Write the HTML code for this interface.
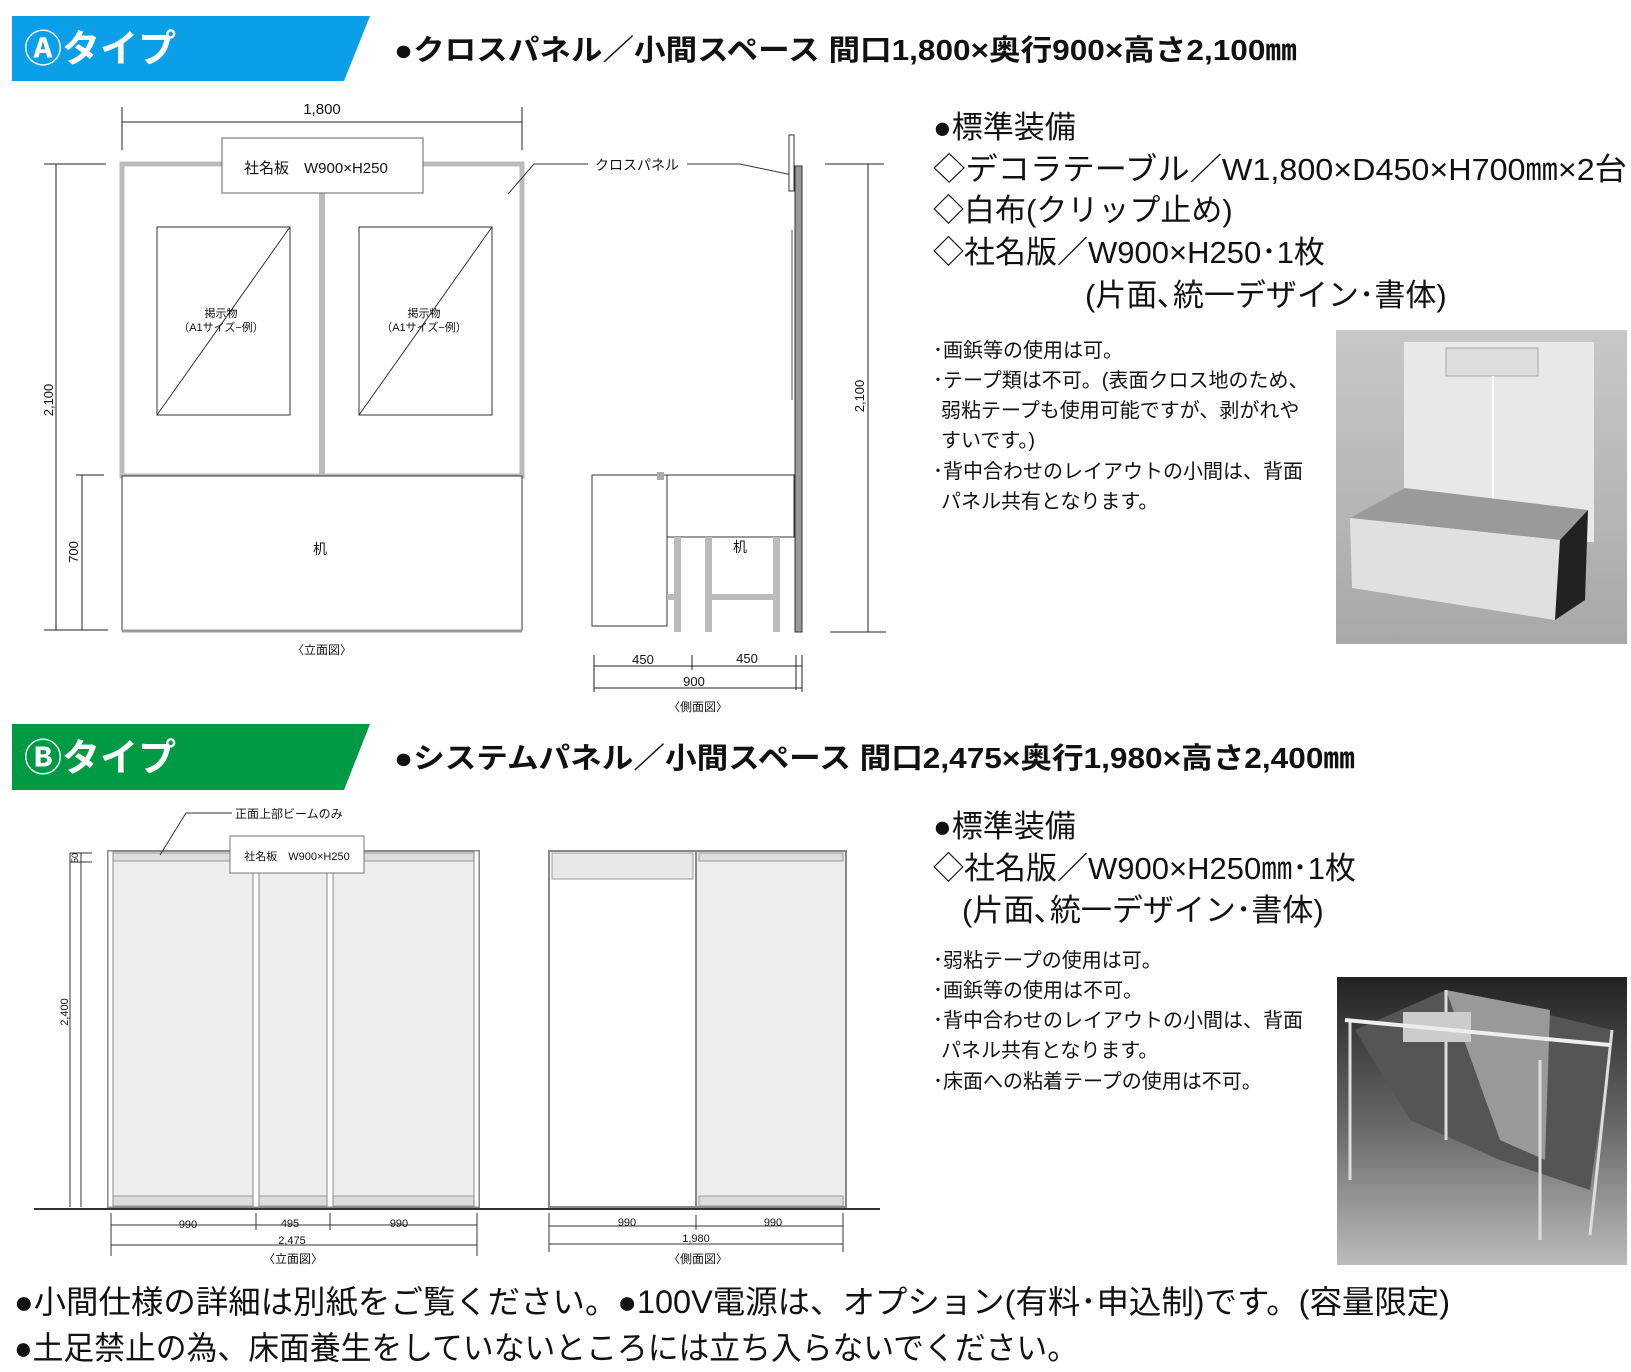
<!DOCTYPE html>
<html><head><meta charset="utf-8"><style>
html,body{margin:0;padding:0;background:#fff;}
svg{display:block;}
text{font-family:"Liberation Sans","Noto Sans CJK JP",sans-serif;fill:#111;}
</style></head><body>
<svg width="1631" height="1372" viewBox="0 0 1631 1372" xmlns="http://www.w3.org/2000/svg">
<defs>
<linearGradient id="gA" x1="0" y1="0" x2="0" y2="1"><stop offset="0" stop-color="#c8c8c8"/><stop offset="1" stop-color="#a8a8a8"/></linearGradient>
<linearGradient id="gB" x1="0" y1="0" x2="0" y2="1"><stop offset="0" stop-color="#222"/><stop offset="0.5" stop-color="#666"/><stop offset="1" stop-color="#bbb"/></linearGradient>
</defs>
<!-- A header -->
<polygon points="12,16 370,16 344,81 12,81" fill="#0a9fe6"/>
<text x="24" y="62" font-size="38" font-weight="bold" style="fill:#fff">Ⓐタイプ</text>
<text x="394" y="60" font-size="29" font-weight="bold" textLength="903" lengthAdjust="spacingAndGlyphs">●クロスパネル／小間スペース 間口1,800×奥行900×高さ2,100㎜</text>

<!-- A elevation -->
<g stroke="#222" fill="none" stroke-width="1">
<line x1="122" y1="122" x2="522" y2="122"/><line x1="122" y1="107" x2="122" y2="150"/><line x1="522" y1="107" x2="522" y2="150"/>
<line x1="44" y1="164" x2="106" y2="164"/><line x1="56" y1="164" x2="56" y2="630"/>
<line x1="44" y1="630" x2="108" y2="630"/>
<line x1="76" y1="475" x2="104" y2="475"/><line x1="82" y1="475" x2="82" y2="630"/>
</g>
<rect x="122" y="164" width="400" height="312" fill="#fff" stroke="#bbb" stroke-width="5"/>
<line x1="322" y1="164" x2="322" y2="476" stroke="#bbb" stroke-width="6"/>
<rect x="222" y="138" width="201" height="55" fill="#fff" stroke="#666"/>
<text x="244" y="173" font-size="15">社名板　W900×H250</text>
<rect x="157" y="227" width="133" height="188" fill="#fff" stroke="#333"/>
<line x1="157" y1="415" x2="290" y2="227" stroke="#333"/>
<rect x="359" y="227" width="133" height="188" fill="#fff" stroke="#333"/>
<line x1="359" y1="415" x2="492" y2="227" stroke="#333"/>
<text x="221" y="317" font-size="11" text-anchor="middle">掲示物</text><text x="221" y="331" font-size="11" text-anchor="middle">（A1サイズ−例）</text>
<text x="424" y="317" font-size="11" text-anchor="middle">掲示物</text><text x="424" y="331" font-size="11" text-anchor="middle">（A1サイズ−例）</text>
<rect x="122" y="476" width="400" height="154" fill="#fff" stroke="#333"/>
<line x1="122" y1="631" x2="522" y2="631" stroke="#999" stroke-width="3"/>
<text x="320" y="554" font-size="14" text-anchor="middle">机</text>
<text x="322" y="114" font-size="15" text-anchor="middle">1,800</text>
<text x="322" y="654" font-size="12" text-anchor="middle">〈立面図〉</text>
<text transform="translate(53,400) rotate(-90)" font-size="13" text-anchor="middle">2,100</text>
<text transform="translate(78,552) rotate(-90)" font-size="13" text-anchor="middle">700</text>
<polyline points="508,194 534,164 588,164" fill="none" stroke="#333"/>
<text x="595" y="170" font-size="14">クロスパネル</text>
<polyline points="687,164 740,164 792,175" fill="none" stroke="#333"/>

<!-- A side -->
<rect x="789" y="135" width="5" height="56" fill="#fff" stroke="#333"/>
<rect x="795" y="166" width="7" height="466" fill="#999" stroke="#333"/>
<line x1="792" y1="230" x2="792" y2="400" stroke="#555"/>
<rect x="592" y="475" width="75" height="151" fill="#fff" stroke="#333"/>
<rect x="657" y="472" width="7" height="8" fill="#aaa"/>
<rect x="667" y="475" width="127" height="62" fill="#fff" stroke="#333"/>
<g fill="#bbb"><rect x="674" y="537" width="7" height="95"/><rect x="705" y="537" width="7" height="95"/><rect x="773" y="537" width="7" height="95"/><rect x="705" y="594" width="75" height="6"/><rect x="667" y="594" width="14" height="6"/></g>
<text x="740" y="552" font-size="14" text-anchor="middle">机</text>
<g stroke="#222" fill="none">
<line x1="825" y1="164" x2="884" y2="164"/><line x1="868" y1="164" x2="868" y2="632"/><line x1="830" y1="632" x2="886" y2="632"/>
<line x1="594" y1="666" x2="802" y2="666"/><line x1="594" y1="688" x2="802" y2="688"/>
<line x1="594" y1="655" x2="594" y2="692"/><line x1="692" y1="655" x2="692" y2="670"/><line x1="796" y1="655" x2="796" y2="690"/><line x1="802" y1="655" x2="802" y2="692"/>
</g>
<text x="643" y="664" font-size="13" text-anchor="middle">450</text>
<text x="747" y="663" font-size="13" text-anchor="middle">450</text>
<text x="694" y="686" font-size="13" text-anchor="middle">900</text>
<text x="698" y="711" font-size="12" text-anchor="middle">〈側面図〉</text>
<text transform="translate(864,396) rotate(-90)" font-size="13" text-anchor="middle">2,100</text>

<!-- A text -->
<g font-size="31">
<text x="933" y="138">●標準装備</text>
<text x="933" y="180" textLength="694" lengthAdjust="spacingAndGlyphs">◇デコラテーブル／W1,800×D450×H700㎜×2台</text>
<text x="933" y="221">◇白布(クリップ止め)</text>
<text x="933" y="263">◇社名版／W900×H250･1枚</text>
<text x="1085" y="306">(片面､統一デザイン･書体)</text>
</g>
<g font-size="20">
<text x="933" y="357">･画鋲等の使用は可。</text>
<text x="933" y="387">･テープ類は不可。(表面クロス地のため、</text>
<text x="941" y="417">弱粘テープも使用可能ですが、剥がれや</text>
<text x="941" y="447">すいです。)</text>
<text x="933" y="478">･背中合わせのレイアウトの小間は、背面</text>
<text x="941" y="508">パネル共有となります。</text>
</g>
<!-- photo A -->
<rect x="1336" y="330" width="291" height="314" fill="url(#gA)"/>
<rect x="1404" y="342" width="190" height="200" fill="#e8e8e8"/>
<rect x="1446" y="348" width="92" height="28" fill="#ddd" stroke="#aaa"/>
<line x1="1493" y1="376" x2="1493" y2="500" stroke="#fff" stroke-width="2"/>
<polygon points="1350,518 1405,488 1588,510 1560,540" fill="#9a9a9a"/>
<polygon points="1350,518 1560,540 1555,620 1352,588" fill="#e0e0e0"/>
<polygon points="1560,540 1588,510 1585,600 1555,620" fill="#222"/>

<!-- B header -->
<polygon points="12,724 370,724 344,790 12,790" fill="#009944"/>
<text x="24" y="771" font-size="38" font-weight="bold" style="fill:#fff">Ⓑタイプ</text>
<text x="394" y="768" font-size="29" font-weight="bold" textLength="961" lengthAdjust="spacingAndGlyphs">●システムパネル／小間スペース 間口2,475×奥行1,980×高さ2,400㎜</text>

<!-- B elevation -->
<rect x="108" y="851" width="371" height="356" fill="#eceeed" stroke="#888" stroke-width="2"/>
<rect x="111" y="853" width="365" height="8" fill="#ddd" stroke="#999"/>
<rect x="111" y="1196" width="365" height="10" fill="#ddd" stroke="#999"/>
<g fill="#fff" stroke="#888"><rect x="253" y="851" width="6" height="356"/><rect x="327" y="851" width="6" height="356"/><rect x="108" y="851" width="5" height="356"/><rect x="474" y="851" width="5" height="356"/></g>
<rect x="230" y="836" width="134" height="37" fill="#fff" stroke="#777"/>
<text x="297" y="860" font-size="11" text-anchor="middle">社名板　W900×H250</text>
<polyline points="160,855 186,813 232,813" fill="none" stroke="#333"/>
<text x="235" y="818" font-size="12">正面上部ビームのみ</text>
<g stroke="#333" fill="none">
<line x1="70" y1="853" x2="70" y2="1207"/><line x1="81" y1="853" x2="81" y2="1207"/><line x1="70" y1="853" x2="92" y2="853"/><line x1="70" y1="862" x2="92" y2="862"/>
<line x1="34" y1="1209" x2="880" y2="1209" stroke-width="2"/>
<line x1="111" y1="1225" x2="477" y2="1225"/><line x1="111" y1="1245" x2="477" y2="1245"/>
<line x1="111" y1="1213" x2="111" y2="1256"/><line x1="256" y1="1213" x2="256" y2="1230"/><line x1="330" y1="1213" x2="330" y2="1230"/><line x1="477" y1="1213" x2="477" y2="1256"/>
<line x1="549" y1="1226" x2="843" y2="1226"/><line x1="549" y1="1244" x2="843" y2="1244"/>
<line x1="549" y1="1213" x2="549" y2="1252"/><line x1="696" y1="1215" x2="696" y2="1230"/><line x1="843" y1="1213" x2="843" y2="1252"/>
</g>
<text transform="translate(68,1012) rotate(-90)" font-size="11" text-anchor="middle">2,400</text>
<text transform="translate(78,858) rotate(-90)" font-size="9" text-anchor="middle">50</text>
<text x="188" y="1228" font-size="11" text-anchor="middle">990</text>
<text x="290" y="1227" font-size="11" text-anchor="middle">495</text>
<text x="399" y="1227" font-size="11" text-anchor="middle">990</text>
<text x="292" y="1244" font-size="11" text-anchor="middle">2,475</text>
<text x="293" y="1263" font-size="12" text-anchor="middle">〈立面図〉</text>
<!-- B side -->
<rect x="549" y="851" width="147" height="356" fill="#fff" stroke="#888" stroke-width="2"/>
<rect x="552" y="853" width="141" height="26" fill="#e8e8e8" stroke="#999"/>
<rect x="696" y="851" width="150" height="356" fill="#eceeed" stroke="#888" stroke-width="2"/>
<rect x="699" y="853" width="144" height="8" fill="#ddd" stroke="#999"/>
<rect x="699" y="1196" width="144" height="10" fill="#ddd" stroke="#999"/>
<text x="627" y="1226" font-size="11" text-anchor="middle">990</text>
<text x="773" y="1226" font-size="11" text-anchor="middle">990</text>
<text x="696" y="1242" font-size="11" text-anchor="middle">1,980</text>
<text x="698" y="1263" font-size="12" text-anchor="middle">〈側面図〉</text>

<!-- B text -->
<g font-size="31">
<text x="933" y="837">●標準装備</text>
<text x="933" y="879">◇社名版／W900×H250㎜･1枚</text>
<text x="962" y="921">(片面､統一デザイン･書体)</text>
</g>
<g font-size="20">
<text x="933" y="967">･弱粘テープの使用は可。</text>
<text x="933" y="997">･画鋲等の使用は不可。</text>
<text x="933" y="1027">･背中合わせのレイアウトの小間は、背面</text>
<text x="941" y="1057">パネル共有となります。</text>
<text x="933" y="1088">･床面への粘着テープの使用は不可。</text>
</g>
<!-- photo B -->
<rect x="1337" y="977" width="290" height="288" fill="url(#gB)"/>
<polygon points="1355,1030 1446,990 1612,1030 1590,1190 1500,1160 1410,1120" fill="#555"/>
<polygon points="1446,990 1550,1010 1545,1160 1500,1140" fill="#999"/>
<g stroke="#ddd" stroke-width="3" fill="none">
<polyline points="1350,1020 1350,1180"/><polyline points="1446,990 1446,1140"/><polyline points="1612,1030 1590,1235"/><polyline points="1540,1060 1540,1240"/>
</g>
<rect x="1403" y="1012" width="68" height="30" fill="#ccc"/>
<line x1="1345" y1="1020" x2="1610" y2="1045" stroke="#eee" stroke-width="4"/>

<!-- bottom -->
<text x="14" y="1313" font-size="32" textLength="1436" lengthAdjust="spacingAndGlyphs">●小間仕様の詳細は別紙をご覧ください。●100V電源は、オプション(有料･申込制)です。(容量限定)</text>
<text x="14" y="1359" font-size="32" textLength="1064" lengthAdjust="spacingAndGlyphs">●土足禁止の為、床面養生をしていないところには立ち入らないでください。</text>
</svg>
</body></html>
